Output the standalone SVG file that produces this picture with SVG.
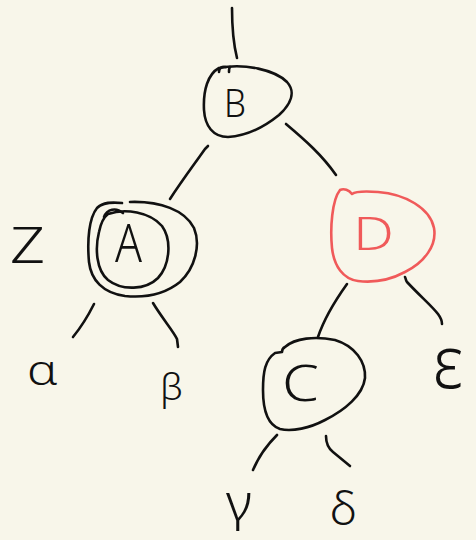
<svg xmlns="http://www.w3.org/2000/svg" width="476" height="540" viewBox="0 0 476 540">
  <style>
    .ink { fill: none; stroke: #111; stroke-width: 2.6; stroke-linecap: round; stroke-linejoin: round; }
    .red { fill: none; stroke: #f05a5a; stroke-width: 2.6; stroke-linecap: round; stroke-linejoin: round; }
    .lbl { font-family: "Noto Sans", "DejaVu Sans", sans-serif; font-weight: 300; fill: #111; text-anchor: start; }
    .lbl-red { font-family: "Noto Sans", "DejaVu Sans", sans-serif; font-weight: 300; fill: #f05a5a; }
  </style>
  <rect width="476" height="540" fill="#f8f6ea"/>

  <!-- tree edges -->
  <g id="connectors">
    <path class="ink" d="M232,8 C232,28 233,42 237,58"/>
    <path class="ink" d="M208,146 L205,149 C193,166 181,182 170,199"/>
    <path class="ink" d="M286,124 C305,140 322,155 336,175"/>
    <path class="ink" d="M94,304 C88,316 82,326 73,337"/>
    <path class="ink" d="M153,303 C162,318 174,332 177,339 L178,347"/>
    <path class="ink" d="M347,284 C337,298 325,316 318,337"/>
    <path class="ink" d="M405,277 C406,279 406,281 407,282 C420,296 432,306 438,314 C441,318 442,321 442,324"/>
    <path class="ink" d="M277,435 C267,445 258,458 253,470"/>
    <path class="ink" d="M326,436 C326,442 328,448 333,452 L350,466"/>
  </g>

  <!-- node B -->
  <g id="node-B">
    <path class="ink" d="M219,68 C245,63 275,70 287,82 C296,92 291,104 279,115 C263,128 245,136 228,137 C213,137 205,126 204,110 C203,90 208,74 219,68 Z"/>
    <path class="ink" d="M219,72 C219,68 222,66 226,67 M229,72 C229,69 229,68 230,67"/>
    <text class="lbl" x="224" y="117" font-size="38" textLength="22" lengthAdjust="spacingAndGlyphs">B</text>
  </g>

  <!-- node A (double ring) -->
  <g id="node-A">
    <path class="ink" d="M130,202 C160,201 185,210 194,228 C201,245 195,268 180,282 C165,294 145,298 125,296 C103,293 91,280 89,262 C87,240 89,218 97,208 C103,202 112,202 122,203"/>
    <path class="ink" d="M108,214 C125,208 150,212 162,226 C172,240 170,265 158,278 C146,290 122,291 108,280 C96,270 95,248 99,232 C101,222 104,217 108,214"/>
    <path class="ink" d="M104,217 C107,209 116,207 123,213"/>
    <text class="lbl" x="115" y="262" font-size="54" textLength="27" lengthAdjust="spacingAndGlyphs">A</text>
  </g>

  <!-- node D -->
  <g id="node-D">
    <path class="red" d="M340,190 C344,188 349,190 352,194 C356,191 365,191 378,192 C405,194 430,208 434,228 C437,245 425,262 405,272 C392,279 375,283 358,281 C343,279 334,266 332,248 C330,228 332,200 340,190 Z"/>
    <text class="lbl-red" x="353" y="250" font-size="46" textLength="41" lengthAdjust="spacingAndGlyphs">D</text>
  </g>

  <!-- node C -->
  <g id="node-C">
    <path class="ink" d="M285,347 C295,338 315,336 335,340 C355,346 366,362 365,378 C363,395 345,410 325,420 C310,428 292,432 280,429 C268,425 263,410 263,390 C263,372 265,360 275,353 L282,352 C282,350 283,348 285,347"/>
    <text class="lbl" x="282" y="401" font-size="50" textLength="37" lengthAdjust="spacingAndGlyphs">C</text>
  </g>

  <!-- leaf / subtree labels -->
  <g id="label-Z"><text class="lbl" x="10" y="263" font-size="49" textLength="35" lengthAdjust="spacingAndGlyphs">Z</text></g>
  <g id="label-alpha"><text class="lbl" x="27" y="385" font-size="43" textLength="31" lengthAdjust="spacingAndGlyphs">α</text></g>
  <g id="label-beta"><text class="lbl" x="160" y="400" font-size="36" textLength="23" lengthAdjust="spacingAndGlyphs">β</text></g>
  <g id="label-gamma"><text class="lbl" x="226" y="520" font-size="52" textLength="26" lengthAdjust="spacingAndGlyphs">γ</text></g>
  <g id="label-delta"><text class="lbl" x="330" y="525" font-size="46" textLength="27" lengthAdjust="spacingAndGlyphs">δ</text></g>
  <g id="label-epsilon"><text class="lbl" transform="translate(433,388) scale(1,1.4)" x="0" y="0" font-size="52" textLength="30" lengthAdjust="spacingAndGlyphs">ε</text></g>
</svg>
